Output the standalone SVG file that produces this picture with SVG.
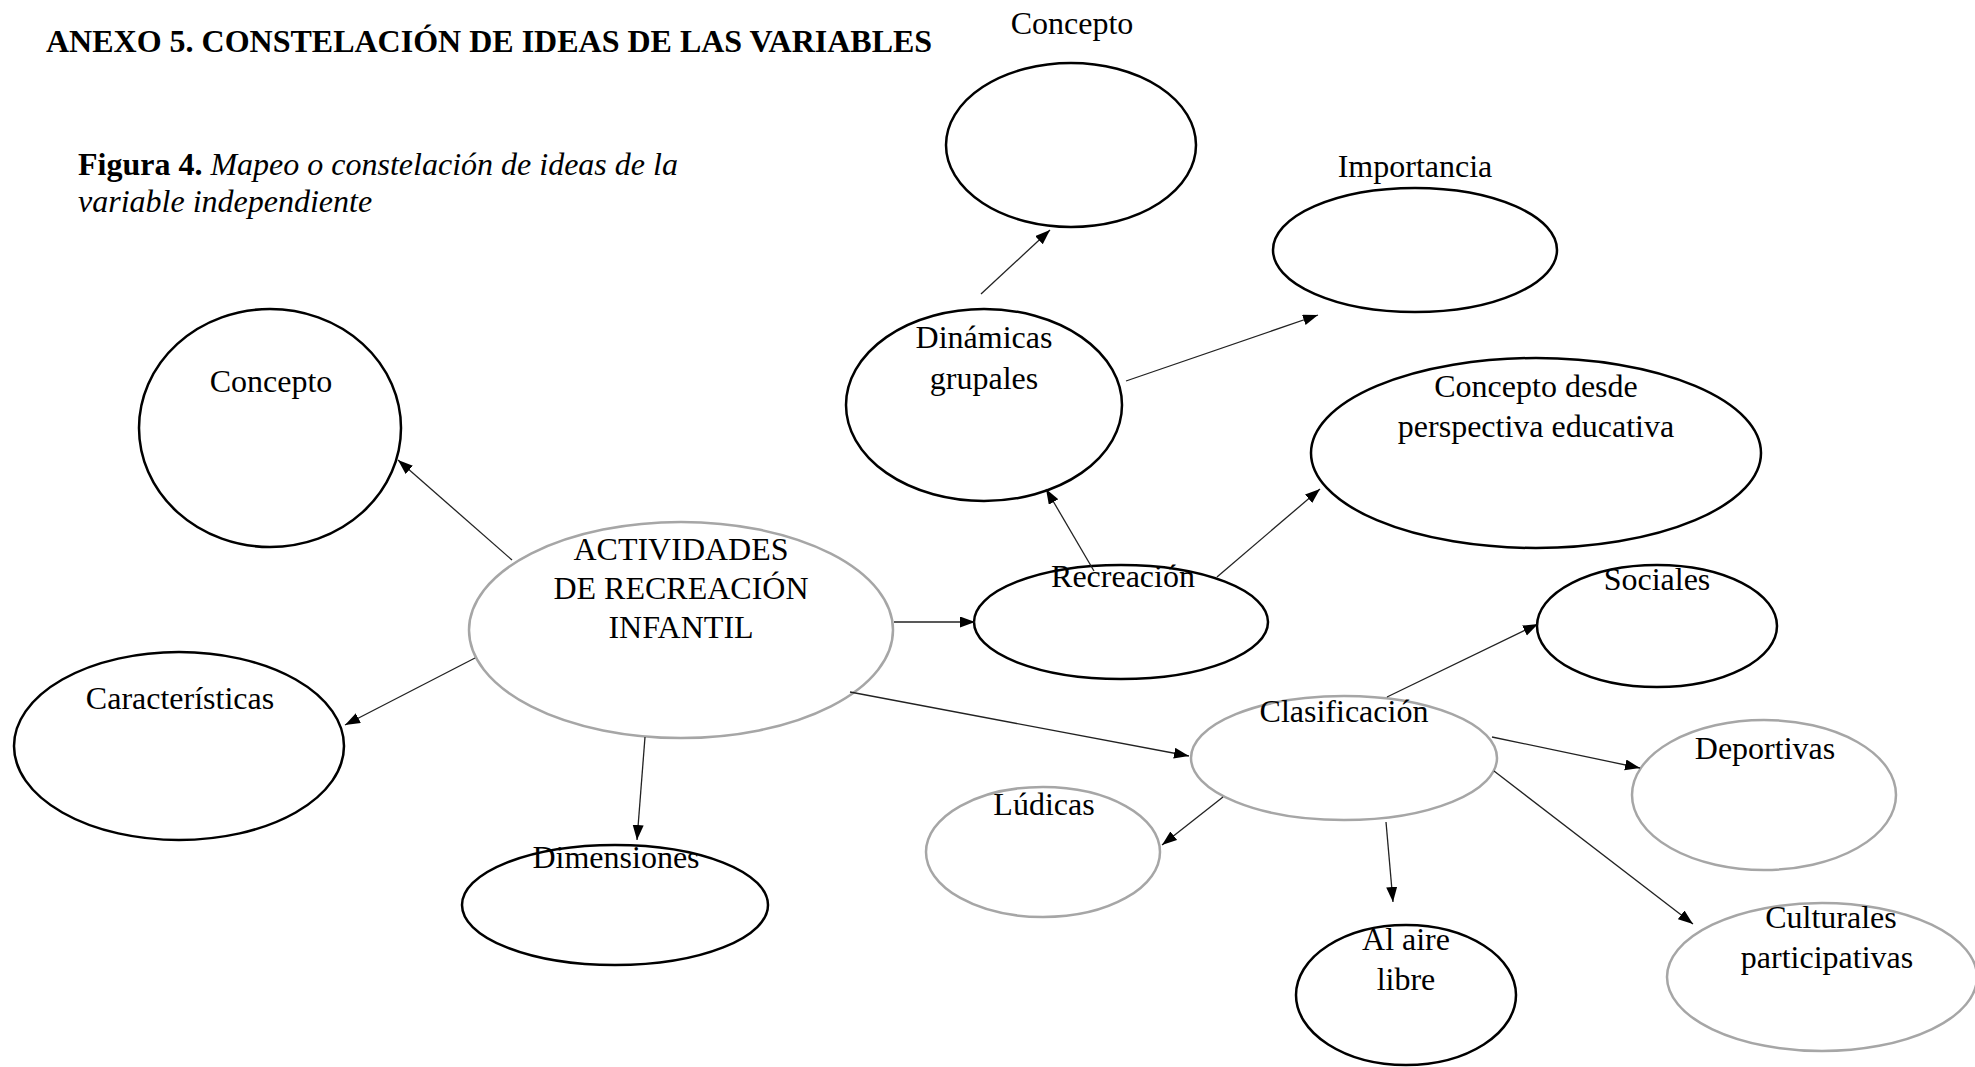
<svg xmlns="http://www.w3.org/2000/svg" width="1975" height="1067" viewBox="0 0 1975 1067">
<style>
text{font-family:"Liberation Serif","Times New Roman",serif;font-size:32px;fill:#000}
.lbl{text-anchor:middle}
.title{font-weight:bold}
.blk{fill:#fff;stroke:#000;stroke-width:2.5}
.gry{fill:#fff;stroke:#a6a6a6;stroke-width:2.5}
.cn{stroke:#222;stroke-width:1.3;fill:none;marker-end:url(#ah)}
</style>
<defs>
<marker id="ah" markerUnits="userSpaceOnUse" markerWidth="16" markerHeight="12" refX="15" refY="5.5" orient="auto">
<path d="M0,0 L15,5.5 L0,11 z" fill="#000"/>
</marker>
</defs>
<rect width="1975" height="1067" fill="#fff"/>
<g id="heading">
<text class="title" x="46" y="52">ANEXO 5. CONSTELACIÓN DE IDEAS DE LAS VARIABLES</text>
<text x="78" y="175"><tspan font-weight="bold">Figura 4.</tspan><tspan font-style="italic"> Mapeo o constelación de ideas de la</tspan></text>
<text x="78" y="212" font-style="italic">variable independiente</text>
</g>
<g id="nodes">
<g id="n-concepto-izq"><ellipse class="blk" cx="270" cy="428" rx="131" ry="119"/><text class="lbl" x="271" y="392">Concepto</text></g>
<g id="n-caracteristicas"><ellipse class="blk" cx="179" cy="746" rx="165" ry="94"/><text class="lbl" x="180" y="709">Características</text></g>
<g id="n-actividades"><ellipse class="gry" cx="681" cy="630" rx="212" ry="108"/><text class="lbl" x="681" y="560">ACTIVIDADES</text><text class="lbl" x="681" y="599">DE RECREACIÓN</text><text class="lbl" x="681" y="638">INFANTIL</text></g>
<g id="n-dimensiones"><ellipse class="blk" cx="615" cy="905" rx="153" ry="60"/><text class="lbl" x="616" y="868">Dimensiones</text></g>
<g id="n-recreacion"><ellipse class="blk" cx="1121" cy="622" rx="147" ry="57"/><text class="lbl" x="1123" y="587">Recreación</text></g>
<g id="n-dinamicas"><ellipse class="blk" cx="984" cy="405" rx="138" ry="96"/><text class="lbl" x="984" y="348">Dinámicas</text><text class="lbl" x="984" y="389">grupales</text></g>
<g id="n-concepto-sup"><ellipse class="blk" cx="1071" cy="145" rx="125" ry="82"/><text class="lbl" x="1072" y="34">Concepto</text></g>
<g id="n-importancia"><ellipse class="blk" cx="1415" cy="250" rx="142" ry="62"/><text class="lbl" x="1415" y="177">Importancia</text></g>
<g id="n-concepto-educ"><ellipse class="blk" cx="1536" cy="453" rx="225" ry="95"/><text class="lbl" x="1536" y="397">Concepto desde</text><text class="lbl" x="1536" y="437">perspectiva educativa</text></g>
<g id="n-sociales"><ellipse class="blk" cx="1657" cy="626" rx="120" ry="61"/><text class="lbl" x="1657" y="590">Sociales</text></g>
<g id="n-clasificacion"><ellipse class="gry" cx="1344" cy="758" rx="153" ry="62"/><text class="lbl" x="1344" y="722">Clasificación</text></g>
<g id="n-deportivas"><ellipse class="gry" cx="1764" cy="795" rx="132" ry="75"/><text class="lbl" x="1765" y="759">Deportivas</text></g>
<g id="n-ludicas"><ellipse class="gry" cx="1043" cy="852" rx="117" ry="65"/><text class="lbl" x="1044" y="815">Lúdicas</text></g>
<g id="n-aire-libre"><ellipse class="blk" cx="1406" cy="995" rx="110" ry="70"/><text class="lbl" x="1406" y="950">Al aire</text><text class="lbl" x="1406" y="990">libre</text></g>
<g id="n-culturales"><ellipse class="gry" cx="1822" cy="977" rx="155" ry="74"/><text class="lbl" x="1831" y="928">Culturales</text><text class="lbl" x="1827" y="968">participativas</text></g>
</g>
<g id="connectors">
<line class="cn" x1="512" y1="560" x2="398" y2="460"/>
<line class="cn" x1="475" y1="658" x2="345" y2="725"/>
<line class="cn" x1="645" y1="737" x2="637" y2="840"/>
<line class="cn" x1="894" y1="622" x2="975" y2="622" stroke-width="1.8"/>
<line class="cn" x1="850" y1="692" x2="1189" y2="756"/>
<line class="cn" x1="1094" y1="571" x2="1046" y2="489"/>
<line class="cn" x1="1217" y1="577" x2="1320" y2="489"/>
<line class="cn" x1="981" y1="294" x2="1050" y2="230"/>
<line class="cn" x1="1126" y1="381" x2="1318" y2="315"/>
<line class="cn" x1="1387" y1="697" x2="1538" y2="624"/>
<line class="cn" x1="1492" y1="737" x2="1640" y2="768"/>
<line class="cn" x1="1223" y1="797" x2="1162" y2="845"/>
<line class="cn" x1="1386" y1="822" x2="1393" y2="902"/>
<line class="cn" x1="1494" y1="771" x2="1693" y2="924"/>
</g>
</svg>
